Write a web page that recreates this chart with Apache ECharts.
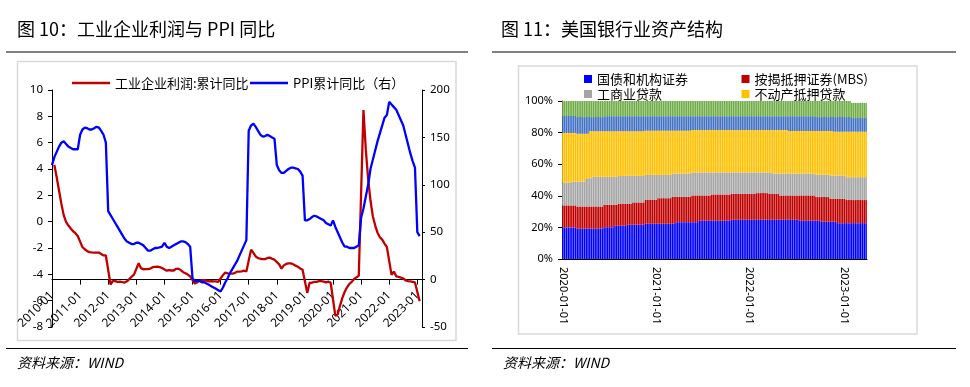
<!DOCTYPE html>
<html><head><meta charset="utf-8">
<script src="https://cdn.jsdelivr.net/npm/echarts/dist/echarts.min.js"></script>
<style>html,body{margin:0;padding:0;background:#fff}#c{width:970px;height:387px}</style>
</head><body><div id="c"></div>
<script>
// ---------- Figure 10: monthly, 2010-01 .. 2023-03 ----------
const ppiCum = [
  4.3,4.9,5.3,5.7,6.0,6.1,5.9,5.7,5.6,5.5,5.5,5.5,
  6.6,7.0,7.15,7.1,7.0,7.0,7.1,7.2,7.15,6.9,6.6,6.0,
  0.8,0.5,0.2,-0.1,-0.4,-0.7,-1.0,-1.3,-1.5,-1.6,-1.7,-1.7,
  -1.6,-1.6,-1.7,-1.8,-2.0,-2.2,-2.2,-2.1,-2.0,-2.0,-1.95,-1.9,
  -1.6,-1.9,-2.0,-1.9,-1.8,-1.7,-1.6,-1.5,-1.5,-1.55,-1.7,-1.9,
  -4.3,-4.5,-4.5,-4.5,-4.6,-4.6,-4.7,-4.8,-4.9,-5.0,-5.1,-5.2,
  -5.3,-5.0,-4.6,-4.3,-3.9,-3.6,-3.3,-3.0,-2.6,-2.2,-1.8,-1.4,
  6.9,7.3,7.45,7.2,6.9,6.6,6.45,6.5,6.6,6.5,6.4,6.3,
  4.3,3.9,3.7,3.7,3.85,4.0,4.1,4.1,4.05,4.0,3.8,3.5,
  0.1,0.1,0.2,0.35,0.45,0.4,0.3,0.2,0.1,-0.1,-0.2,-0.3,
  0.1,-0.4,-0.8,-1.2,-1.6,-1.9,-1.9,-2.0,-2.0,-2.0,-1.9,-1.8,
  0.3,1.0,1.9,2.8,4.0,4.7,5.4,6.1,6.7,7.3,7.9,8.1,
  9.1,8.9,8.7,8.5,8.1,7.7,7.3,6.6,5.9,5.2,4.6,4.1,
  -0.8,-1.1,null
];
const profitCum = [
  null,121,108,94,80,68,61,57,54,51,49,46,
  null,34.3,32,30,29,28.7,28.5,28.5,28.5,27,25.5,25.4,
  null,-5.2,-1.3,-1.6,-2.4,-2.2,-2.7,-3.1,-1.8,0.5,3.0,5.3,
  null,17.2,12.1,10.9,11.1,11.1,11.6,13.1,13.5,13.7,13.2,12.2,
  null,9.4,10.1,9.6,9.6,11.4,11.6,10.0,7.8,6.7,5.3,3.3,
  null,-4.2,-2.7,-1.3,-0.8,-0.7,-1.0,-1.9,-1.7,-1.9,-1.9,-2.3,
  null,4.8,7.4,6.5,6.4,6.2,6.9,8.4,8.4,8.6,9.4,8.5,
  null,31.5,28.3,24.4,22.7,22.0,21.6,21.6,22.8,23.3,21.9,21.0,
  null,16.1,11.6,15.0,16.5,17.2,17.1,16.2,14.7,13.6,11.8,10.3,
  null,-14.0,-3.3,-3.4,-2.3,-2.4,-1.7,-1.7,-2.1,-2.9,-2.1,-3.3,
  null,-38.3,-36.7,-27.4,-19.3,-12.8,-8.1,-4.4,-2.4,0.7,2.4,4.1,
  null,178.9,137.3,106.0,83.4,66.9,57.3,49.5,44.7,42.2,38.0,34.3,
  null,5.0,8.5,3.5,2.8,2.2,1.2,-0.9,-1.5,-2.0,-2.5,-3.0,
  null,-22.9,null
];
const monthFirstYear = 2010, monthCount = 159;
const leftTicksL = [-8,-6,-4,-2,0,2,4,6,8,10];
const rightTicksL = [-50,0,50,100,150,200];

// ---------- Figure 11: weekly shares (%), 2020-01-01 .. 2023-03-29 ----------
const weekStart = '2020-01-01', weekCount = 170;
const treasury = [
  20.0,20.0,20.0,20.0,20.0,20.0,20.0,20.0,
  19.2,19.2,19.2,19.2,19.2,19.2,19.2,19.2,19.2,19.2,19.2,19.2,19.2,19.2,19.2,
  20.1,20.1,20.1,20.1,20.1,20.1,
  21.0,21.0,21.0,21.0,21.0,21.0,21.0,
  21.7,21.7,21.7,21.7,21.7,21.7,21.7,21.7,21.7,21.7,
  22.3,22.3,22.3,22.3,22.3,22.3,22.3,22.3,22.3,22.3,22.3,22.3,22.3,22.3,22.3,22.3,22.3,
  23.3,23.3,23.3,23.3,23.3,23.3,23.3,23.3,23.3,23.3,23.3,23.3,23.3,
  24.2,24.2,24.2,24.2,24.2,24.2,24.2,24.2,24.2,24.2,24.2,24.2,24.2,24.2,24.2,24.2,24.2,24.2,
  24.8,24.8,24.8,24.8,24.8,24.8,24.8,24.8,24.8,24.8,
  24.8,24.8,24.8,24.8,24.8,24.8,24.8,24.8,24.8,24.8,
  24.8,24.8,24.8,24.8,24.8,24.8,24.8,24.8,24.8,24.8,
  24.8,24.8,24.8,24.8,24.8,24.8,24.8,24.8,
  24.2,24.2,24.2,24.2,24.2,24.2,24.2,24.2,24.2,24.2,24.2,24.2,
  23.6,23.6,23.6,23.6,23.6,23.6,23.6,23.6,23.6,
  22.7,22.7,22.7,22.7,22.7,22.7,22.7,22.7,22.7,22.7,22.7,22.7,22.7,22.7,22.7,22.7,22.7
];
const mbs = [
  13.9,13.9,13.9,13.9,13.9,13.9,13.9,13.9,
  14.0,14.0,14.0,14.0,14.0,14.0,14.0,14.0,14.0,14.0,14.0,14.0,14.0,14.0,14.0,
  14.2,14.2,14.2,14.2,14.2,14.2,
  13.3,13.3,
  14.0,14.0,14.0,14.0,14.0,
  13.3,13.3,13.3,
  14.1,14.1,14.1,14.1,14.1,14.1,14.1,
  15.2,15.2,15.2,15.2,15.2,15.2,15.2,
  16.2,16.2,16.2,16.2,16.2,16.2,16.2,16.2,
  17.0,17.0,
  16.0,16.0,16.0,16.0,16.0,16.0,16.0,16.0,16.0,
  16.9,16.9,16.9,16.9,
  16.0,16.0,16.0,16.0,16.0,16.0,16.0,
  16.6,16.6,16.6,16.6,16.6,16.6,16.6,16.6,16.6,16.6,16.6,
  16.4,16.4,16.4,16.4,16.4,16.4,16.4,16.4,16.4,16.4,16.4,16.4,16.4,16.4,
  16.9,16.9,16.9,16.9,16.9,16.9,16.9,
  16.4,16.4,16.4,16.4,16.4,16.4,
  15.4,15.4,15.4,15.4,15.4,15.4,15.4,15.4,15.4,15.4,15.4,
  16.0,16.0,16.0,16.0,16.0,16.0,16.0,16.0,16.0,
  15.0,15.0,15.0,
  15.6,15.6,15.6,15.6,15.6,
  14.5,14.5,14.5,14.5,
  15.4,15.4,15.4,15.4,15.4,
  14.6,14.6,14.6,14.6,14.6,14.6,14.6,14.6,14.6,14.6,14.6,14.6
];
const ciLoans = [
  14.5,14.5,14.5,14.5,14.5,
  15.1,15.1,15.1,
  15.8,15.8,15.8,15.8,15.8,
  17.9,17.9,17.9,17.9,
  18.8,18.8,18.8,18.8,18.8,18.8,
  17.7,17.7,17.7,17.7,17.7,17.7,17.7,17.7,
  17.6,17.6,17.6,17.6,17.6,17.6,17.6,17.6,
  16.8,16.8,16.8,16.8,16.8,16.8,16.8,
  15.7,15.7,15.7,15.7,15.7,15.7,15.7,
  14.7,14.7,14.7,14.7,14.7,14.7,14.7,14.7,
  14.8,14.8,14.8,14.8,14.8,14.8,14.8,14.8,14.8,14.8,14.8,
  14.6,14.6,14.6,14.6,14.6,14.6,14.6,14.6,14.6,14.6,14.6,
  14.0,14.0,14.0,14.0,14.0,14.0,14.0,14.0,14.0,14.0,14.0,
  13.6,13.6,13.6,13.6,13.6,13.6,13.6,13.6,13.6,13.6,13.6,13.6,13.6,13.6,
  13.1,13.1,13.1,13.1,13.1,13.1,13.1,
  13.6,13.6,
  12.9,12.9,12.9,12.9,
  13.9,13.9,13.9,13.9,13.9,13.9,13.9,13.9,13.9,13.9,
  13.9,13.9,13.9,13.9,13.9,13.9,13.9,13.9,13.9,13.9,
  14.1,14.1,14.1,14.1,14.1,14.1,14.1,14.1,
  14.7,14.7,14.7,14.7,14.7,14.7,14.7,14.7,14.7,
  14.5,14.5,14.5,14.5,14.5,14.5,14.5,14.5,14.5,14.5,14.5,14.5
];
const realEstate = [
  31.4,31.4,31.4,31.4,31.4,
  30.8,30.8,30.8,
  30.2,30.2,30.2,30.2,30.2,
  28.1,28.1,
  29.8,29.8,
  28.9,28.9,28.9,28.9,28.9,28.9,28.9,28.9,28.9,28.9,28.9,28.9,28.9,28.9,
  28.3,28.3,28.3,28.3,28.3,28.3,28.3,28.3,28.3,28.3,28.3,28.3,28.3,28.3,28.3,
  28.0,28.0,28.0,28.0,28.0,28.0,28.0,28.0,28.0,28.0,28.0,28.0,28.0,28.0,28.0,
  27.1,27.1,27.1,27.1,27.1,27.1,27.1,27.1,27.1,27.1,27.1,
  26.8,26.8,26.8,26.8,26.8,26.8,26.8,26.8,26.8,26.8,
  26.8,26.8,26.8,26.8,26.8,26.8,26.8,26.8,26.8,26.8,
  26.8,26.8,26.8,26.8,26.8,26.8,26.8,26.8,26.8,26.8,
  26.8,26.8,26.8,26.8,26.8,26.8,26.8,26.8,26.8,26.8,
  26.8,26.8,26.8,26.8,26.8,
  27.5,27.5,27.5,27.5,27.5,27.5,27.5,27.5,27.5,
  26.9,26.9,26.9,26.9,26.9,26.9,26.9,26.9,26.9,26.9,26.9,26.9,26.9,26.9,26.9,
  27.7,27.7,27.7,27.7,27.7,27.7,27.7,27.7,
  28.2,28.2,
  27.8,27.8,27.8,27.8,27.8,27.8,27.8,
  28.8,28.8,28.8,28.8,28.8,28.8,28.8,28.8,28.8,28.8,28.8,28.8
];
const consumer = [
  10.7,10.7,10.7,10.7,10.7,10.7,10.7,10.7,
  10.6,10.6,10.6,10.6,10.6,10.6,10.6,
  8.9,8.9,8.9,8.9,8.9,8.9,8.9,8.9,
  9.5,9.5,9.5,9.5,9.5,9.5,9.5,9.5,9.5,9.5,9.5,9.5,9.5,9.5,9.5,9.5,9.5,9.5,9.5,9.5,9.5,9.5,9.5,
  9.2,9.2,9.2,9.2,9.2,9.2,9.2,9.2,9.2,9.2,9.2,9.2,9.2,
  9.2,9.2,9.2,9.2,9.2,9.2,9.2,9.2,9.2,9.2,9.2,9.2,9.2,
  8.8,8.8,8.8,8.8,8.8,8.8,8.8,8.8,8.8,8.8,
  8.8,8.8,8.8,8.8,8.8,8.8,8.8,8.8,8.8,8.8,
  8.8,8.8,8.8,8.8,8.8,8.8,8.8,8.8,8.8,8.8,
  8.8,8.8,8.8,8.8,8.8,8.8,8.8,8.8,8.8,8.8,
  8.8,8.8,8.8,8.8,8.8,8.8,8.8,8.8,8.8,8.8,
  8.8,8.8,8.8,8.8,
  9.4,9.4,9.4,9.4,9.4,9.4,9.4,9.4,9.4,9.4,9.4,9.4,9.4,9.4,9.4,
  8.8,8.8,8.8,8.8,8.8,8.8,8.8,8.8,8.8,8.8,
  9.2,9.2,9.2,9.2,9.2,9.2,9.2,9.2,9.2,9.2,
  8.6,8.6,8.6,8.6,8.6,8.6,8.6,8.6,8.6
];
const other = [
  9.5,9.5,9.5,9.5,9.5,9.5,9.5,9.5,
  10.2,10.2,10.2,10.2,10.2,10.2,10.2,10.2,10.2,10.2,10.2,10.2,10.2,10.2,10.2,
  9.6,9.6,9.6,9.6,9.6,9.6,9.6,9.6,9.6,9.6,
  9.6,9.6,9.6,9.6,9.6,9.6,9.6,9.6,9.6,9.6,
  9.6,9.6,9.6,9.6,9.6,9.6,9.6,9.6,9.6,9.6,
  9.6,9.6,9.6,9.6,9.6,9.6,9.6,9.6,9.6,9.6,
  9.6,9.6,9.6,9.6,9.6,9.6,9.6,9.6,9.6,9.6,
  9.6,9.6,9.6,9.6,9.6,9.6,9.6,9.6,9.6,9.6,
  9.6,9.6,9.6,9.6,9.6,9.6,9.6,9.6,9.6,9.6,
  9.6,9.6,9.6,9.6,9.6,9.6,9.6,9.6,9.6,9.6,
  9.6,9.6,9.6,9.6,9.6,9.6,9.6,9.6,9.6,9.6,
  9.6,9.6,9.6,9.6,9.6,9.6,9.6,9.6,9.6,9.6,
  9.6,9.6,9.6,9.6,9.6,9.6,9.6,9.6,9.6,9.6,
  9.6,9.6,9.6,9.6,9.6,9.6,9.6,9.6,
  10.2,10.2,10.2,10.2,10.2,10.2,10.2,10.2,10.2,10.2,
  10.2,10.2,10.2,10.2,10.2,10.2,10.2,10.2,10.2,10.2,
  9.6,9.6,9.6,9.6,9.6,9.6,9.6,9.6,9.6
];
const barNames = ['国债和机构证券','按揭抵押证券(MBS)','工商业贷款','不动产抵押贷款','消费贷款','其他'];
const barColors = ['#0000FF','#C00000','#A5A5A5','#FFC000','#4472C4','#70AD47'];

// ---------- categories ----------
const months = [];
for (let i = 0; i < monthCount; i++) {
  const y = monthFirstYear + Math.floor(i / 12), m = i % 12 + 1;
  months.push(y + '-' + (m < 10 ? '0' + m : m));
}
const weeks = [];
const w0 = Date.parse(weekStart + 'T00:00:00Z');
for (let i = 0; i < weekCount; i++) weeks.push(new Date(w0 + i * 7 * 86400000).toISOString().slice(0, 10));
function nearYearStart(i) {
  const t = Date.parse(weeks[i] + 'T00:00:00Z');
  const y = new Date(t).getUTCFullYear();
  for (const yy of [y, y + 1]) {
    const j = Date.UTC(yy, 0, 1);
    if (Math.abs(t - j) <= 3 * 86400000) return yy;
  }
  return null;
}

const FONT_NUM = 'Noto Sans';
const FONT_CJK = 'Noto Sans CJK SC';
const chart = echarts.init(document.getElementById('c'), null, {renderer: 'canvas'});

// left grid geometry (used to put the category axis on the right axis' zero)
const G0 = {left: 52, top: 90, width: 370, height: 237};
const zeroOffset = G0.height * (0 - rightTicksL[0]) / (rightTicksL[rightTicksL.length - 1] - rightTicksL[0]);

const lineLegend = (name, left) => ({
  left: left, top: 76, padding: 0, itemWidth: 38, itemHeight: 2.5, icon: 'rect',
  data: [name], selectedMode: false,
  textStyle: {fontSize: 13, color: '#000', fontFamily: FONT_CJK, lineHeight: 14}
});
const barLegend = (name, left, top) => ({
  left: left, top: top, padding: 0, itemWidth: 8, itemHeight: 8, icon: 'rect',
  data: [name], selectedMode: false,
  textStyle: {fontSize: 13, color: '#000', fontFamily: FONT_CJK, lineHeight: 14}
});

const option = {
  animation: false,
  backgroundColor: '#fff',
  legend: [
    lineLegend('工业企业利润:累计同比', 72),
    lineLegend('PPI累计同比（右）', 250),
    barLegend(barNames[0], 584, 72),
    barLegend(barNames[1], 741.5, 72),
    barLegend(barNames[2], 584, 87),
    barLegend(barNames[3], 741.5, 87)
  ],
  grid: [
    Object.assign({containLabel: false}, G0),
    {left: 562, top: 101, width: 305, height: 158, containLabel: false}
  ],
  xAxis: [
    {
      type: 'category', gridIndex: 0, data: months, boundaryGap: false,
      offset: -zeroOffset,
      axisLine: {onZero: false, lineStyle: {color: '#000', width: 1}},
      axisTick: {interval: (i) => i % 12 === 0, length: 5, lineStyle: {color: '#000'}},
      axisLabel: {interval: (i) => i % 12 === 0, rotate: 45, color: '#000', fontSize: 12, fontFamily: FONT_NUM, margin: 14},
      splitLine: {show: false}
    },
    {
      type: 'category', gridIndex: 1, data: weeks,
      axisLine: {lineStyle: {color: '#000', width: 1}},
      axisTick: {alignWithLabel: true, interval: (i) => nearYearStart(i) !== null, length: 4, lineStyle: {color: '#000'}},
      axisLabel: {
        interval: (i) => nearYearStart(i) !== null, rotate: -90, color: '#000', fontSize: 11, fontFamily: FONT_NUM, margin: 8,
        formatter: (v, i) => nearYearStart(i) + '-01-01'
      },
      splitLine: {show: false}
    }
  ],
  yAxis: [
    {
      type: 'value', gridIndex: 0, position: 'left', min: leftTicksL[0], max: leftTicksL[leftTicksL.length - 1], interval: 2,
      axisLine: {show: true, onZero: false, lineStyle: {color: '#000'}},
      axisTick: {show: true, length: 4, lineStyle: {color: '#000'}},
      axisLabel: {color: '#000', fontSize: 11.5, fontFamily: FONT_NUM, margin: 9},
      splitLine: {show: false}
    },
    {
      type: 'value', gridIndex: 0, position: 'right', min: rightTicksL[0], max: rightTicksL[rightTicksL.length - 1], interval: 50,
      axisLine: {show: true, onZero: false, lineStyle: {color: '#000'}},
      axisTick: {show: true, length: 3, lineStyle: {color: '#000'}},
      axisLabel: {color: '#000', fontSize: 11.5, fontFamily: FONT_NUM, margin: 8},
      splitLine: {show: false}
    },
    {
      type: 'value', gridIndex: 1, min: 0, max: 100, interval: 20,
      axisLine: {show: true, lineStyle: {color: '#000'}},
      axisTick: {show: true, length: 4, lineStyle: {color: '#000'}},
      axisLabel: {color: '#000', fontSize: 11, fontFamily: FONT_NUM, margin: 9, formatter: '{value}%'},
      splitLine: {show: false}
    }
  ],
  series: [
    {
      name: '工业企业利润:累计同比', type: 'line', xAxisIndex: 0, yAxisIndex: 1, data: profitCum,
      connectNulls: true, symbol: 'none', lineStyle: {color: '#C00000', width: 2.3}, itemStyle: {color: '#C00000'}
    },
    {
      name: 'PPI累计同比（右）', type: 'line', xAxisIndex: 0, yAxisIndex: 0, data: ppiCum,
      symbol: 'none', lineStyle: {color: '#0000FF', width: 2.3}, itemStyle: {color: '#0000FF'}
    }
  ].concat([treasury, mbs, ciLoans, realEstate, consumer, other].map((d, k) => ({
    name: barNames[k], type: 'bar', xAxisIndex: 1, yAxisIndex: 2, stack: 'share', data: d,
    barCategoryGap: '15%', itemStyle: {color: barColors[k]}
  }))),
  graphic: [
    {type: 'text', left: 17, top: 20, style: {text: '图 10：工业企业利润与 PPI 同比', fontSize: 18, fontFamily: FONT_CJK, fill: '#000'}},
    {type: 'text', left: 501, top: 20, style: {text: '图 11：美国银行业资产结构', fontSize: 18, fontFamily: FONT_CJK, fill: '#000'}},
    {type: 'line', shape: {x1: 6, y1: 52, x2: 468, y2: 52}, style: {stroke: '#000', lineWidth: 1.2}},
    {type: 'line', shape: {x1: 492, y1: 52, x2: 956, y2: 52}, style: {stroke: '#000', lineWidth: 1.2}},
    {type: 'rect', shape: {x: 17.5, y: 61.5, width: 438.5, height: 279}, style: {fill: 'none', stroke: '#d9d9d9', lineWidth: 1.5}, z: -1},
    {type: 'rect', shape: {x: 518.5, y: 66, width: 398.5, height: 268}, style: {fill: 'none', stroke: '#d9d9d9', lineWidth: 1.5}, z: -1},
    {type: 'line', shape: {x1: 6, y1: 348.5, x2: 468, y2: 348.5}, style: {stroke: '#000', lineWidth: 1.2}},
    {type: 'line', shape: {x1: 492, y1: 348.5, x2: 956, y2: 348.5}, style: {stroke: '#000', lineWidth: 1.2}},
    {type: 'text', left: 17, top: 356, style: {text: '资料来源：WIND', fontSize: 14, fontStyle: 'italic', fontFamily: FONT_CJK, fill: '#000'}},
    {type: 'text', left: 503, top: 356, style: {text: '资料来源：WIND', fontSize: 14, fontStyle: 'italic', fontFamily: FONT_CJK, fill: '#000'}}
  ]
};
chart.setOption(option);
</script>
</body></html>
